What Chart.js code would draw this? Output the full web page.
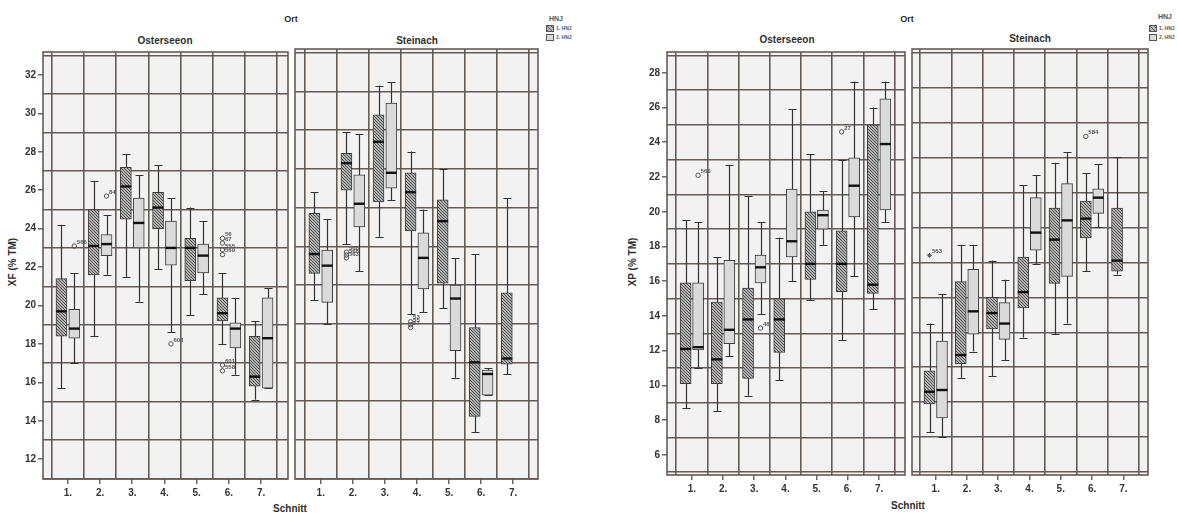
<!DOCTYPE html>
<html>
<head>
<meta charset="utf-8">
<script src="https://cdn.jsdelivr.net/npm/chart.js@4.4.1/dist/chart.umd.min.js"></script>
<style>
  body { margin: 0; background: #fff; width: 1177px; height: 514px; position: relative; overflow: hidden;
         font-family: 'Liberation Sans', Arial, sans-serif; color: #2e2e2e; }
  .t { position: absolute; font-weight: bold; white-space: nowrap; transform: translate(-50%, -50%); }
  .rot { transform: translate(-50%, -50%) rotate(-90deg); }
  canvas { position: absolute; }
  .lg { position: absolute; font-size: 5px; font-weight: bold; line-height: 9px; color: #555; white-space: nowrap; }
  .lg i { display: inline-block; width: 6px; height: 5px; border: 1px solid #555; margin-right: 2px; vertical-align: middle; }
  .h1 { background: repeating-linear-gradient(45deg, #555 0 1px, #bbb 1px 3px); }
  .h2 { background: #dadada; }
</style>
</head>
<body>

<div class="t" style="left:291px;top:19px;font-size:9px">Ort</div>
<div class="t" style="left:165px;top:40px;font-size:10px">Osterseeon</div>
<div class="t" style="left:417px;top:40px;font-size:10px">Steinach</div>
<div class="t" style="left:515px;top:72px;font-size:12px">A</div>
<div class="t rot" style="left:12px;top:262px;font-size:10px">XF (% TM)</div>
<div class="t" style="left:290px;top:508px;font-size:10px">Schnitt</div>
<div class="t" style="left:556px;top:18px;font-size:7px;color:#555">HNJ</div>
<div class="lg" style="left:546px;top:24px"><i class="h1"></i>1. HNJ<br><i class="h2"></i>2. HNJ</div>

<div class="t" style="left:907px;top:19px;font-size:9px">Ort</div>
<div class="t" style="left:787px;top:39px;font-size:10px">Osterseeon</div>
<div class="t" style="left:1030px;top:38px;font-size:10px">Steinach</div>
<div class="t" style="left:1125px;top:70px;font-size:12px">B</div>
<div class="t rot" style="left:632px;top:262px;font-size:10px">XP (% TM)</div>
<div class="t" style="left:908px;top:505px;font-size:10px">Schnitt</div>
<div class="t" style="left:1165px;top:16px;font-size:7px;color:#555">HNJ</div>
<div class="lg" style="left:1149px;top:24px"><i class="h1"></i>1. HNJ<br><i class="h2"></i>2. HNJ</div>

<script>
const schnitt = ['1.', '2.', '3.', '4.', '5.', '6.', '7.'];

// XF (% TM), je Schnitt: [min, Q1, Median, Q3, max]
const xfOsterseeon1 = [
  [15.7, 18.4, 19.7, 21.4, 24.2], [18.4, 21.6, 23.1, 25.0, 26.5], [21.5, 24.5, 26.2, 27.2, 27.9],
  [21.9, 24.0, 25.1, 25.9, 27.3], [19.5, 21.3, 23.0, 23.5, 25.1], [18.0, 19.2, 19.6, 20.4, 21.7],
  [15.1, 15.8, 16.3, 18.4, 19.2]
];
const xfOsterseeon2 = [
  [17.0, 18.3, 18.8, 19.8, 21.7], [21.6, 22.6, 23.2, 23.7, 24.7], [20.2, 23.0, 24.3, 25.6, 26.8],
  [18.6, 22.1, 23.0, 24.4, 25.6], [20.6, 21.7, 22.6, 23.2, 24.4], [16.4, 17.8, 18.8, 19.1, 20.4],
  [15.7, 15.7, 18.3, 20.4, 20.9]
];
const xfSteinach1 = [
  [20.2, 21.6, 22.6, 24.7, 25.8], [23.1, 25.9, 27.3, 27.8, 28.9], [23.5, 25.3, 28.4, 29.8, 31.3],
  [19.5, 23.8, 25.8, 26.8, 27.9], [19.8, 21.1, 24.3, 25.4, 27.0], [13.4, 14.2, 17.0, 18.8, 22.6],
  [16.4, 16.9, 17.2, 20.6, 25.5]
];
const xfSteinach2 = [
  [19.0, 20.1, 22.0, 22.8, 24.4], [21.7, 24.0, 25.2, 26.7, 28.8], [25.4, 26.0, 26.8, 30.4, 31.5],
  [19.6, 20.8, 22.4, 23.7, 24.9], [16.2, 17.6, 20.3, 21.0, 22.4], [15.3, 15.3, 16.4, 16.6, 16.7],
  null
];
// Ausreisser: [Schnitt, HNJ, Wert, Fall-Nr., extrem]
const xfOsterseeonOut = [
  [1, 2, 23.1, '566'], [2, 2, 25.7, '84'], [4, 2, 18.0, '603'],
  [6, 1, 23.5, '56'], [6, 1, 23.25, '67'], [6, 1, 22.9, '555'], [6, 1, 22.65, '569'],
  [6, 1, 16.9, '601'], [6, 1, 16.6, '558']
];
const xfSteinachOut = [
  [2, 1, 22.7, '566'], [2, 1, 22.55, '568'], [2, 1, 22.4, '563'],
  [4, 1, 19.1, '53'], [4, 1, 18.95, '55'], [4, 1, 18.8, '57']
];

// XP (% TM)
const xpOsterseeon1 = [
  [8.7, 10.1, 12.1, 15.9, 19.5], [8.5, 10.1, 11.5, 14.8, 17.4], [9.4, 10.4, 13.8, 15.6, 20.9],
  [10.3, 11.9, 13.8, 15.0, 18.5], [14.9, 16.1, 17.0, 20.0, 23.3], [12.6, 15.4, 17.0, 18.9, 23.0],
  [14.4, 15.3, 15.8, 25.0, 26.0]
];
const xpOsterseeon2 = [
  [11.0, 12.05, 12.2, 15.9, 19.4], [11.7, 12.4, 13.2, 17.2, 22.7], [14.1, 15.9, 16.8, 17.5, 19.4],
  [16.0, 17.4, 18.3, 21.3, 25.9], [18.1, 19.0, 19.8, 20.1, 21.2], [16.3, 19.7, 21.5, 23.1, 27.5],
  [19.4, 20.1, 23.9, 26.5, 27.5]
];
const xpSteinach1 = [
  [7.3, 8.9, 9.6, 10.8, 13.5], [10.4, 11.2, 11.7, 15.9, 18.0], [10.5, 13.2, 14.1, 15.0, 17.1],
  [12.7, 14.4, 15.3, 17.3, 21.4], [12.9, 15.8, 18.3, 20.1, 22.7], [16.5, 18.4, 19.5, 20.5, 22.1],
  [16.3, 16.5, 17.1, 20.1, 23.0]
];
const xpSteinach2 = [
  [7.0, 8.1, 9.7, 12.5, 15.2], [11.9, 12.9, 14.2, 16.6, 18.0], [11.4, 12.6, 13.5, 14.7, 16.0],
  [16.9, 17.7, 18.7, 20.7, 22.0], [13.5, 16.2, 19.4, 21.5, 23.3], [19.0, 19.8, 20.7, 21.2, 22.6],
  null
];
const xpOsterseeonOut = [[1, 2, 22.1, '560'], [3, 2, 13.3, '48'], [6, 1, 24.6, '27']];
const xpSteinachOut = [[1, 1, 17.4, '563', true], [6, 1, 24.2, '584']];

// beschriftete Achsenwerte
const xfTicks = [12, 14, 16, 18, 20, 22, 24, 26, 28, 30, 32];
const xpTicks = [6, 8, 10, 12, 14, 16, 18, 20, 22, 24, 26, 28];

const gridColor = '#665a57';
const textColor = '#333';
const plotBg = '#f3f2f2';
const shift = [-0.2, 0.2];

function hatch() {
  const c = document.createElement('canvas');
  c.width = 3; c.height = 3;
  const g = c.getContext('2d');
  g.fillStyle = '#b4b4b4';
  g.fillRect(0, 0, 3, 3);
  g.fillStyle = '#4e4e4e';
  // one pixel per row, shifted: fine diagonal stripes
  g.fillRect(0, 0, 1, 1);
  g.fillRect(1, 1, 1, 1);
  g.fillRect(2, 2, 1, 1);
  return g.createPattern(c, 'repeat');
}
const hatchFill = hatch();

const boxPlugin = {
  id: 'boxes',
  beforeDraw(chart) {
    const {ctx, chartArea: a} = chart;
    ctx.save();
    ctx.fillStyle = plotBg;
    ctx.fillRect(a.left, a.top, a.right - a.left, a.bottom - a.top);
    ctx.restore();
  },
  beforeDatasetsDraw(chart) {
    const {ctx, chartArea: a, scales: {x, y}} = chart;
    ctx.save();
    ctx.strokeStyle = gridColor;
    ctx.lineWidth = 1.6;
    ctx.strokeRect(a.left, a.top, a.right - a.left, a.bottom - a.top);
    ctx.strokeStyle = '#333';
    ctx.lineWidth = 1.2;
    chart.data.datasets.forEach(ds => {
      if (!ds.stats) return;
      ds.stats.forEach((s, i) => {
        if (!s) return;
        const px = Math.round(x.getPixelForValue(i + 1 + ds.shift)) + 0.5;
        ctx.beginPath();
        ctx.moveTo(px, y.getPixelForValue(s[0]));
        ctx.lineTo(px, y.getPixelForValue(s[4]));
        [s[0], s[4]].forEach(v => {
          const py = Math.round(y.getPixelForValue(v)) + 0.5;
          ctx.moveTo(px - 4, py);
          ctx.lineTo(px + 4, py);
        });
        ctx.stroke();
      });
    });
    ctx.restore();
  },
  afterDatasetsDraw(chart) {
    const {ctx, scales: {x, y}} = chart;
    ctx.save();
    chart.data.datasets.forEach((ds, di) => {
      if (ds.stats) {
        ctx.strokeStyle = '#111';
        ctx.lineWidth = 2.4;
        ds.stats.forEach((s, i) => {
          if (!s) return;
          const px = x.getPixelForValue(i + 1 + ds.shift);
          const py = y.getPixelForValue(s[2]);
          ctx.beginPath();
          ctx.moveTo(px - 5.5, py);
          ctx.lineTo(px + 5.5, py);
          ctx.stroke();
        });
      }
      if (ds.ids) {
        const meta = chart.getDatasetMeta(di);
        ctx.fillStyle = '#555';
        ctx.font = 'bold 6px "Liberation Sans"';
        ctx.textBaseline = 'bottom';
        meta.data.forEach((el, k) => ctx.fillText(ds.ids[k], el.x + 2.5, el.y - 1));
      }
    });
    ctx.restore();
  }
};

function facet(f, p) {
  const PT = 4, PR = 4, XH = p.xh;
  const yw = f.axis ? 43 : 4;
  const w = yw + (f.right - f.left) + PR;
  const h = PT + (f.bottom - f.top) + XH;
  const cv = document.createElement('canvas');
  cv.width = w; cv.height = h;
  cv.style.left = (f.left - yw) + 'px';
  cv.style.top = (f.top - PT) + 'px';
  cv.style.width = w + 'px';
  cv.style.height = h + 'px';
  document.body.appendChild(cv);

  const datasets = f.box.map((stats, k) => ({
    type: 'bar',
    data: stats.map((s, i) => s ? {x: i + 1 + shift[k], y: [s[1], s[3]]} : null).filter(Boolean),
    stats: stats,
    shift: shift[k],
    grouped: false,
    barThickness: 11,
    backgroundColor: k === 0 ? hatchFill : '#dadada',
    borderColor: '#3c3c3c',
    borderWidth: 1,
    borderSkipped: false
  }));
  datasets.push({
    type: 'scatter',
    data: f.out.map(o => ({x: o[0] + shift[o[1] - 1], y: o[2]})),
    ids: f.out.map(o => o[3]),
    pointStyle: f.out.map(o => o[4] ? 'star' : 'circle'),
    pointRadius: f.out.map(o => o[4] ? 2.5 : 2.2),
    backgroundColor: 'rgba(255,255,255,0)',
    borderColor: '#555',
    borderWidth: 1
  });

  const lo = p.ticks[0] - 1, hi = p.ticks[p.ticks.length - 1] + 1;
  const yValues = [];
  for (let v = lo; v <= hi; v++) yValues.push(v);
  const xValues = [];
  for (let v = 0.5; v <= schnitt.length + 0.5; v += 0.5) xValues.push(v);

  new Chart(cv, {
    type: 'bar',
    data: {datasets},
    plugins: [boxPlugin],
    options: {
      responsive: false,
      animation: false,
      devicePixelRatio: 1,
      events: [],
      layout: {padding: {top: PT, right: PR, left: 0, bottom: 0}},
      plugins: {legend: {display: false}, tooltip: {enabled: false}},
      scales: {
        x: {
          type: 'linear',
          min: f.xmin,
          max: f.xmax,
          offset: false,
          afterBuildTicks: s => { s.ticks = xValues.map(v => ({value: v})); },
          afterFit: s => { s.height = XH; },
          border: {display: false},
          grid: {
            offset: false,
            lineWidth: 1.6,
            color: c => c.tick && c.tick.value % 1 === 0.5 ? gridColor : 'rgba(0,0,0,0)',
            tickColor: c => c.tick && c.tick.value % 1 === 0 ? '#444' : 'rgba(0,0,0,0)',
            tickLength: 5,
            tickWidth: 1.2
          },
          ticks: {
            autoSkip: false,
            maxRotation: 0,
            padding: 3,
            color: textColor,
            font: {size: 10, weight: 'bold'},
            callback: v => v % 1 === 0 ? schnitt[v - 1] : ''
          }
        },
        y: {
          type: 'linear',
          min: p.min,
          max: p.max,
          afterBuildTicks: s => { s.ticks = yValues.map(v => ({value: v})); },
          afterFit: s => { s.width = yw; },
          border: {display: false},
          grid: {
            lineWidth: 1.6,
            drawTicks: f.axis,
            color: c => c.tick && p.ticks.indexOf(c.tick.value) < 0 ? gridColor : 'rgba(0,0,0,0)',
            tickColor: c => c.tick && p.ticks.indexOf(c.tick.value) >= 0 ? '#444' : 'rgba(0,0,0,0)',
            tickLength: 5,
            tickWidth: 1.2
          },
          ticks: {
            display: f.axis,
            autoSkip: false,
            padding: 2,
            color: textColor,
            font: {size: 10, weight: 'bold'},
            callback: v => p.ticks.indexOf(v) >= 0 ? String(v) : ''
          }
        }
      }
    }
  });
}

Chart.defaults.font.family = "'Liberation Sans', Arial, sans-serif";

const panels = [
  {ticks: xfTicks, min: 10.97, max: 33.2, xh: 28, facets: [
    {left: 43, top: 48, right: 289, bottom: 479, xmin: 0.227, xmax: 7.835, axis: true,
     box: [xfOsterseeon1, xfOsterseeon2], out: xfOsterseeonOut},
    {left: 294, top: 48, right: 539, bottom: 479, xmin: 0.196, xmax: 7.773, axis: false,
     box: [xfSteinach1, xfSteinach2], out: xfSteinachOut}
  ]},
  {ticks: xpTicks, min: 4.84, max: 29.2, xh: 26, facets: [
    {left: 667, top: 48, right: 906, bottom: 475, xmin: 0.203, xmax: 7.83, axis: true,
     box: [xpOsterseeon1, xpOsterseeon2], out: xpOsterseeonOut},
    {left: 911, top: 48, right: 1149, bottom: 475, xmin: 0.24, xmax: 7.79, axis: false,
     box: [xpSteinach1, xpSteinach2], out: xpSteinachOut}
  ]}
];

panels.forEach(p => p.facets.forEach(f => facet(f, p)));
</script>
</body>
</html>
